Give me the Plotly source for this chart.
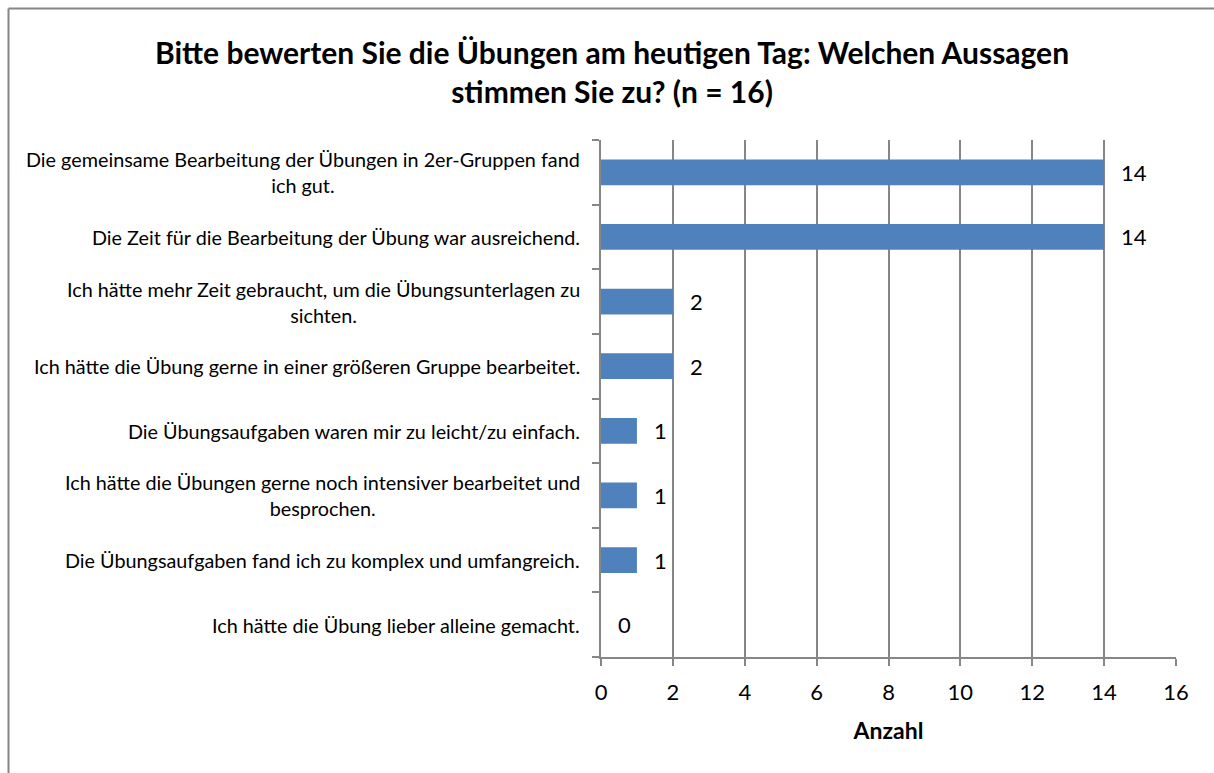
import plotly.graph_objects as go

# Survey statements (top to bottom) and number of agreeing participants
statements = [
    "Die gemeinsame Bearbeitung der Übungen in 2er-Gruppen fand<br>ich gut.",
    "Die Zeit für die Bearbeitung der Übung war ausreichend.",
    "Ich hätte mehr Zeit gebraucht, um die Übungsunterlagen zu<br>sichten.",
    "Ich hätte die Übung gerne in einer größeren Gruppe bearbeitet.",
    "Die Übungsaufgaben waren mir zu leicht/zu einfach.",
    "Ich hätte die Übungen gerne noch intensiver bearbeitet und<br>besprochen.",
    "Die Übungsaufgaben fand ich zu komplex und umfangreich.",
    "Ich hätte die Übung lieber alleine gemacht.",
]
counts = [14, 14, 2, 2, 1, 1, 1, 0]
x_ticks = [0, 2, 4, 6, 8, 10, 12, 14, 16]

title_text = "Bitte bewerten Sie die Übungen am heutigen Tag: Welchen Aussagen<br>stimmen Sie zu? (n = 16)"
x_title = "Anzahl"

FONT = "Lato, Carlito, Calibri, sans-serif"
GREY = "#868686"
BLUE = "#4F81BD"

W, H = 1214, 773
L, R, T, B = 601, 38, 140, 116
pw, ph = W - L - R, H - T - B

ys = list(range(len(statements)))

fig = go.Figure()
fig.add_trace(go.Bar(
    x=counts,
    y=ys,
    orientation="h",
    marker=dict(color=BLUE, line=dict(width=0)),
    width=0.4,
    hoverinfo="skip",
))

# Value labels placed just past the end of each bar
for i, c in enumerate(counts):
    fig.add_annotation(
        x=c, xref="x", y=i, yref="y",
        text=str(c), showarrow=False,
        xanchor="left", yanchor="middle", xshift=15,
        font=dict(family=FONT, size=22, color="#000000"),
    )

# Category labels, centred line by line and right-aligned against the axis
for i, s in enumerate(statements):
    fig.add_annotation(
        x=0, xref="paper", y=i, yref="y",
        text=s, showarrow=False,
        xanchor="right", yanchor="middle", align="center",
        xshift=-19,
        font=dict(family=FONT, size=19.8, color="#000000"),
    )

# Title
fig.add_annotation(
    x=(W / 2 + 5 - L) / pw, xref="paper",
    y=1 + (T - 72) / ph, yref="paper",
    text="<b>" + title_text.replace("<br>", "</b><br><b>") + "</b>",
    showarrow=False, xanchor="center", yanchor="middle", align="center",
    font=dict(family=FONT, size=30, color="#000000"),
)

# Outer chart frame: left and top edges
x_left = (8.5 - L) / pw
y_top = 1 + (T - 8.5) / ph
fig.add_shape(
    type="line", xref="paper", yref="paper",
    x0=x_left, x1=x_left, y0=y_top, y1=-B / ph,
    line=dict(color=GREY, width=2), layer="below",
)
fig.add_shape(
    type="line", xref="paper", yref="paper",
    x0=x_left, x1=(W - L) / pw, y0=y_top, y1=y_top,
    line=dict(color=GREY, width=2), layer="below",
)

fig.update_layout(
    width=W, height=H,
    margin=dict(l=L, r=R, t=T, b=B, pad=0),
    paper_bgcolor="white", plot_bgcolor="white",
    showlegend=False,
    font=dict(family=FONT, color="#000000"),
    xaxis=dict(
        range=[0, 16], tickvals=x_ticks, ticktext=[str(v) for v in x_ticks],
        showgrid=True, gridcolor=GREY, gridwidth=1.5,
        showline=True, linecolor=GREY, linewidth=2,
        ticks="outside", ticklen=7, tickcolor=GREY, tickwidth=2,
        ticklabelstandoff=8,
        tickfont=dict(family=FONT, size=22, color="#000000"),
        zeroline=False,
        title=dict(text="<b>" + x_title + "</b>", standoff=18,
                   font=dict(family=FONT, size=23, color="#000000")),
        fixedrange=True,
    ),
    yaxis=dict(
        range=[len(statements) - 0.5, -0.5],
        tickvals=[i - 0.5 for i in range(len(statements) + 1)],
        showticklabels=False,
        showgrid=False,
        showline=True, linecolor=GREY, linewidth=2,
        ticks="outside", ticklen=7, tickcolor=GREY, tickwidth=2,
        zeroline=False,
        fixedrange=True,
    ),
)

fig.write_html("out.html")
